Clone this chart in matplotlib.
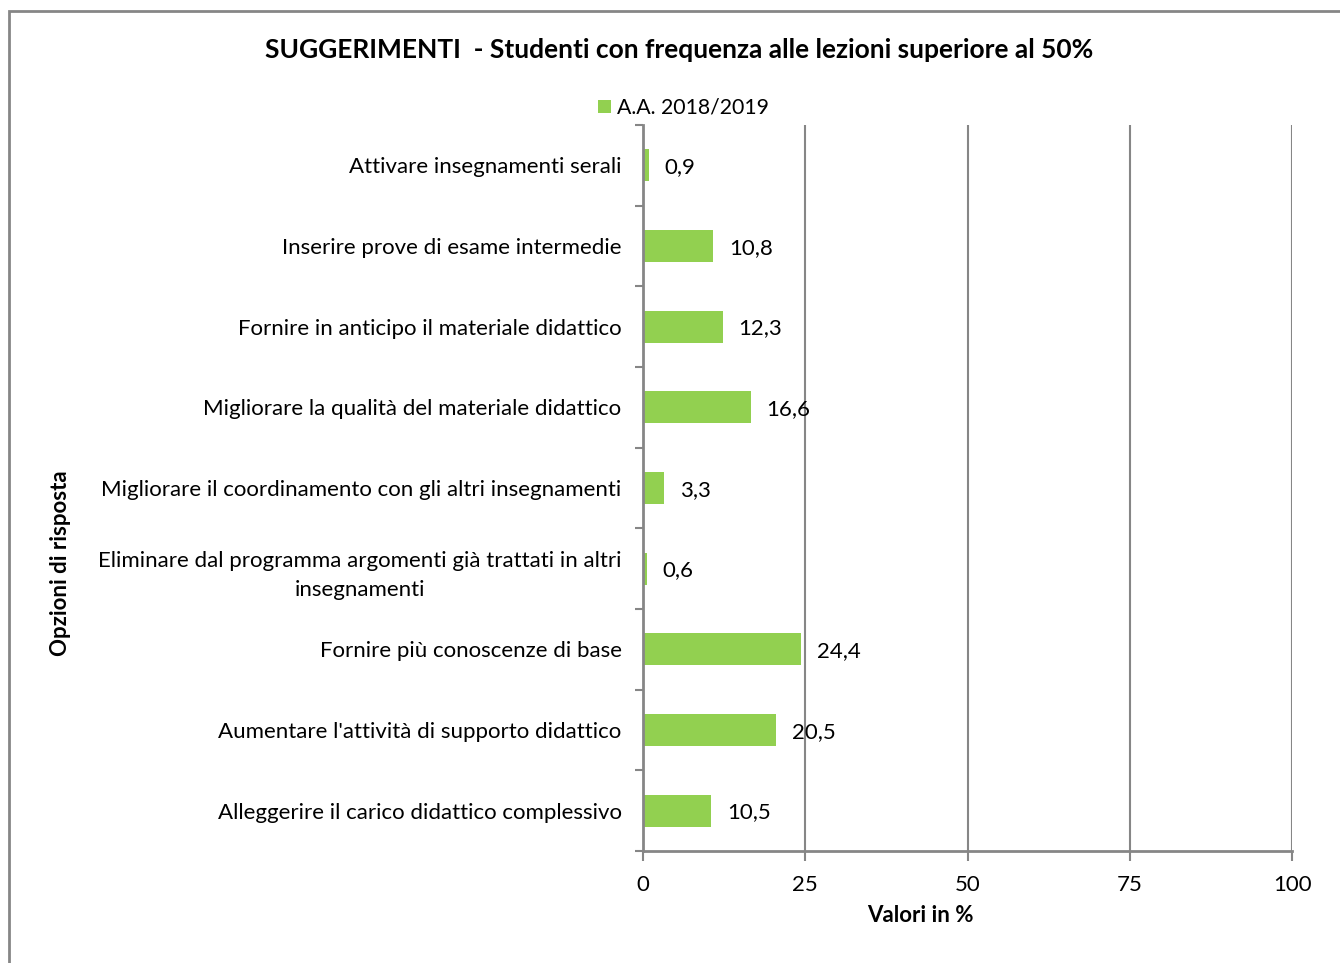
import matplotlib.pyplot as plt
from matplotlib.patches import Rectangle

plt.rcParams['font.family'] = ['Lato', 'DejaVu Sans']

# dati (dall'alto verso il basso)
categorie = [
    "Attivare insegnamenti serali",
    "Inserire prove di esame intermedie",
    "Fornire in anticipo il materiale didattico",
    "Migliorare la qualità del materiale didattico",
    "Migliorare il coordinamento con gli altri insegnamenti",
    "Eliminare dal programma argomenti già trattati in altri\ninsegnamenti",
    "Fornire più conoscenze di base",
    "Aumentare l'attività di supporto didattico",
    "Alleggerire il carico didattico complessivo",
]
valori = [0.9, 10.8, 12.3, 16.6, 3.3, 0.6, 24.4, 20.5, 10.5]
serie = "A.A. 2018/2019"
xticks = [0, 25, 50, 75, 100]

verde = "#92D050"
grigio = "#868686"
fs = 16

fig = plt.figure(figsize=(13.4, 9.63), dpi=100)
ax = fig.add_axes([0.4799, 0.1163, 0.4843, 0.7539])

pos = list(range(len(categorie)))[::-1]
ax.barh(pos, valori, height=0.4, color=verde, label=serie, zorder=2)

for p, v in zip(pos, valori):
    ax.text(v + 2.4, p - 0.02, f"{v:.1f}".replace(".", ","), va="center", ha="left",
            fontsize=fs, color="black", zorder=1)

ax.set_xlim(0, 100)
ax.set_ylim(-0.5, len(categorie) - 0.5)
ax.set_xticks(xticks)
ax.set_xticklabels([str(t) for t in xticks], fontsize=fs)
ax.set_yticks(pos)
ax.set_yticklabels(categorie, fontsize=fs, multialignment="center", linespacing=1.6)
ax.tick_params(axis="y", length=0, pad=15.5)
ax.set_yticks([p + 0.5 for p in range(-1, len(categorie))], minor=True)
ax.tick_params(axis="y", which="minor", length=6, width=1.5, color=grigio, direction="out")
ax.tick_params(axis="x", length=7, width=1.5, color=grigio, pad=10)

for t in xticks[1:]:
    ax.axvline(t, color=grigio, lw=1.5, zorder=0)

for s in ["top", "right"]:
    ax.spines[s].set_visible(False)
for s in ["left", "bottom"]:
    ax.spines[s].set_color(grigio)
    ax.spines[s].set_linewidth(2)

ax.set_xlabel("Valori in %", fontsize=fs, fontweight="bold", labelpad=10)
ax.xaxis.set_label_coords(0.428, -0.075)
fig.text(0.045, 0.415, "Opzioni di risposta", rotation=90, fontsize=fs,
         fontweight="bold", ha="center", va="center")

fig.text(0.507, 0.948, "SUGGERIMENTI  - Studenti con frequenza alle lezioni superiore al 50%",
         fontsize=19, fontweight="bold", ha="center", va="center")

fig.legend(loc="center", bbox_to_anchor=(0.51, 0.888), frameon=False, fontsize=15.3,
           handlelength=0.6, handleheight=0.6, handletextpad=0.3)

# cornice del grafico
fig.patches.append(Rectangle((9 / 1340, -0.05), 1.1, 1 - 11 / 963 + 0.05,
                             transform=fig.transFigure, fill=False,
                             edgecolor=grigio, lw=2))

fig.savefig("out.png", dpi=100)
